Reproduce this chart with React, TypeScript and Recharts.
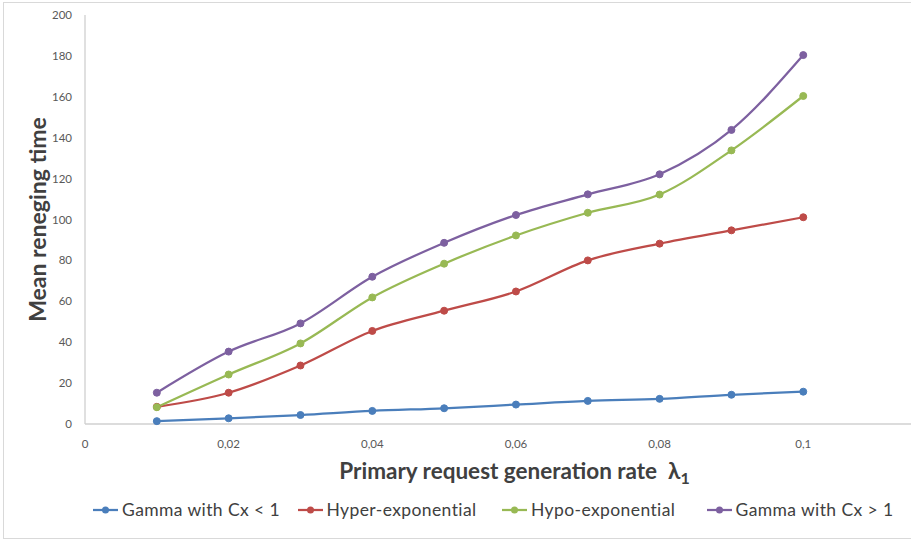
import React from 'react';
import { LineChart, Line, XAxis, YAxis, Legend } from 'recharts';

const rates = [0.01, 0.02, 0.03, 0.04, 0.05, 0.06, 0.07, 0.08, 0.09, 0.1];
const gammaLow = [1.4, 2.8, 4.4, 6.4, 7.7, 9.5, 11.3, 12.3, 14.3, 15.8];
const hyperExp = [8.4, 15.3, 28.6, 45.5, 55.4, 64.8, 80.0, 88.2, 94.7, 101.1];
const hypoExp = [8.2, 24.2, 39.4, 61.9, 78.4, 92.2, 103.3, 112.2, 133.8, 160.4];
const gammaHigh = [15.3, 35.4, 49.2, 72.0, 88.6, 102.2, 112.3, 122.1, 143.8, 180.4];

const xTicks = [0, 0.02, 0.04, 0.06, 0.08, 0.1];
const yTicks = [0, 20, 40, 60, 80, 100, 120, 140, 160, 180, 200];

const seriesNames = ['Gamma with Cx < 1', 'Hyper-exponential', 'Hypo-exponential', 'Gamma with Cx > 1'];
const seriesKeys = ['gammaLow', 'hyperExp', 'hypoExp', 'gammaHigh'];
const seriesColors = ['#4A7EBB', '#BE4B48', '#98B954', '#7D60A0'];

const data = rates.map((r, i) => ({
  rate: r,
  gammaLow: gammaLow[i],
  hyperExp: hyperExp[i],
  hypoExp: hypoExp[i],
  gammaHigh: gammaHigh[i],
}));

const FONT = 'Lato, "Open Sans", sans-serif';

const fmt = (v: number) => String(v).replace('.', ',');

const XTitle = (props: any) => {
  const vb = props.viewBox;
  return (
    <text
      x={vb.x + vb.width * 0.52}
      y={vb.y + 46}
      textAnchor="middle"
      dominantBaseline="central"
      fontFamily={FONT}
      fontWeight={700}
      fontSize={22.5}
      fill="#404040"
    >
      Primary request generation rate{'\u00a0\u00a0'}λ
      <tspan fontSize={16} dy={7}>1</tspan>
    </text>
  );
};

const YTitle = (props: any) => {
  const vb = props.viewBox;
  const cx = 37;
  const cy = vb.y + vb.height / 2;
  return (
    <text
      x={cx}
      y={cy}
      transform={`rotate(-90, ${cx}, ${cy})`}
      textAnchor="middle"
      dominantBaseline="central"
      fontFamily={FONT}
      fontWeight={700}
      fontSize={23}
      fill="#404040"
    >
      Mean reneging time
    </text>
  );
};

const LegendContent = () => (
  <div style={{ display: 'flex', alignItems: 'center', paddingLeft: 93, fontFamily: FONT, fontSize: 17.5, color: '#404040', whiteSpace: 'nowrap' }}>
    {seriesNames.map((n, i) => (
      <div key={n} style={{ display: 'flex', alignItems: 'center', width: 206 }}>
        <svg width={25} height={10} style={{ marginRight: 4 }}>
          <line x1={0} y1={5} x2={25} y2={5} stroke={seriesColors[i]} strokeWidth={2.25} />
          <circle cx={12.5} cy={5} r={3.5} fill={seriesColors[i]} />
        </svg>
        <span style={{ letterSpacing: 0.4 }}>{n}</span>
      </div>
    ))}
  </div>
);

export default function App() {
  return (
    <div style={{ position: 'absolute', left: 0, top: 0, width: 911, height: 542, overflow: 'hidden', background: '#fff' }}>
      <div style={{ position: 'absolute', left: 3, top: 2, width: 940, height: 535, border: '1px solid #d9d9d9' }} />
      <LineChart width={911} height={542} data={data} margin={{ top: 15, right: 0, bottom: 0, left: 0 }} style={{ position: 'absolute', left: 0, top: 0 }}>
        <XAxis
          dataKey="rate"
          type="number"
          domain={[0, 0.115]}
          ticks={xTicks}
          tickFormatter={fmt}
          height={118}
          tickLine={false}
          tickMargin={10}
          axisLine={{ stroke: '#d0d0d0', strokeWidth: 1.3 }}
          tick={{ fill: '#595959', fontSize: 11.5, fontFamily: FONT }}
          label={<XTitle />}
          allowDataOverflow
        />
        <YAxis
          type="number"
          domain={[0, 200]}
          ticks={yTicks}
          width={85}
          tickLine={false}
          tickMargin={7}
          axisLine={{ stroke: '#d0d0d0', strokeWidth: 1.3 }}
          tick={{ fill: '#595959', fontSize: 11.5, fontFamily: FONT }}
          label={<YTitle />}
        />
        <Legend
          verticalAlign="middle"
          align="center"
          layout="horizontal"
          content={<LegendContent />}
          wrapperStyle={{ top: 499, left: 0, width: 911 }}
        />
        {seriesKeys.map((k, i) => (
          <Line
            key={k}
            dataKey={k}
            name={seriesNames[i]}
            type="monotone"
            stroke={seriesColors[i]}
            strokeWidth={2.25}
            dot={{ r: 3.5, fill: seriesColors[i], stroke: seriesColors[i], strokeWidth: 1 }}
            activeDot={false}
            isAnimationActive={false}
          />
        ))}
      </LineChart>
    </div>
  );
}
